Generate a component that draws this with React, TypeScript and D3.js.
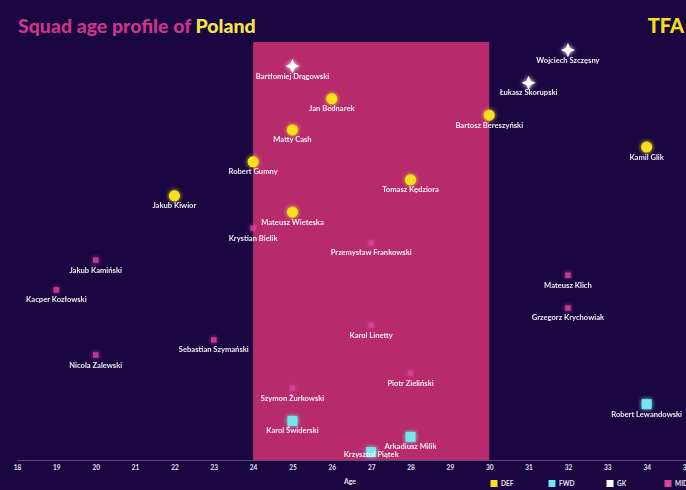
import React, { useEffect, useRef } from "react";
import * as d3 from "d3";

// Poland squad: age vs. vertical position (grouped by role)
const players = [
  "Wojciech Szczęsny", "Łukasz Skorupski", "Bartłomiej Drągowski",
  "Jan Bednarek", "Bartosz Bereszyński", "Matty Cash", "Kamil Glik", "Robert Gumny",
  "Tomasz Kędziora", "Jakub Kiwior", "Mateusz Wieteska",
  "Krystian Bielik", "Przemysław Frankowski", "Jakub Kamiński", "Mateusz Klich",
  "Kacper Kozłowski", "Grzegorz Krychowiak", "Karol Linetty", "Sebastian Szymański",
  "Nicola Zalewski", "Piotr Zieliński", "Szymon Żurkowski",
  "Robert Lewandowski", "Karol Świderski", "Arkadiusz Milik", "Krzysztof Piątek"
];
const ages = [
  32, 31, 25,
  26, 30, 25, 34, 24,
  28, 22, 25,
  24, 27, 20, 32,
  19, 32, 27, 23,
  20, 28, 25,
  34, 25, 28, 27
];
const heights = [
  97.6, 89.8, 93.8,
  86.0, 82.1, 78.6, 74.5, 71.0,
  66.7, 62.9, 59.0,
  55.2, 51.7, 47.6, 44.0,
  40.5, 36.2, 32.1, 28.6,
  25.0, 20.7, 17.1,
  13.3, 9.3, 5.5, 1.9
];
const positions = [
  "GK", "GK", "GK",
  "DEF", "DEF", "DEF", "DEF", "DEF",
  "DEF", "DEF", "DEF",
  "MID", "MID", "MID", "MID",
  "MID", "MID", "MID", "MID",
  "MID", "MID", "MID",
  "FWD", "FWD", "FWD", "FWD"
];
const ageTicks = d3.range(18, 36);
const peakAges = [24, 30];
const legendKeys = ["DEF", "FWD", "GK", "MID"];

const COLORS: any = { DEF: "#f6e21c", FWD: "#72e6ea", GK: "#ffffff", MID: "#d8449c" };
const BG = "#1a0641";
const PINK = "#b72a6b";

// four-pointed sparkle for goalkeepers
const sparkle = {
  draw(ctx: any, size: number) {
    const r = Math.sqrt(size) * 0.75;
    const k = r * 0.3;
    ctx.moveTo(0, -r);
    ctx.lineTo(k, -k);
    ctx.lineTo(r, 0);
    ctx.lineTo(k, k);
    ctx.lineTo(0, r);
    ctx.lineTo(-k, k);
    ctx.lineTo(-r, 0);
    ctx.lineTo(-k, -k);
    ctx.closePath();
  }
};

export default function App() {
  const svgRef = useRef<SVGSVGElement>(null);

  useEffect(() => {
    document.body.style.margin = "0";
    document.body.style.background = BG;
    if (!svgRef.current) return;

    const width = 686;
    const height = 490;
    const svg = d3.select(svgRef.current);
    svg.selectAll("*").remove();

    const x = d3.scaleLinear().domain([18, 35]).range([17, 686]);
    const y = d3.scaleLinear().domain([0, 100]).range([460, 40]);

    svg.append("rect").attr("width", width).attr("height", height).attr("fill", BG);

    const defs = svg.append("defs");
    const glow = defs.append("filter").attr("id", "glow")
      .attr("x", "-100%").attr("y", "-100%").attr("width", "300%").attr("height", "300%");
    glow.append("feGaussianBlur").attr("stdDeviation", 2).attr("result", "b");
    const merge = glow.append("feMerge");
    merge.append("feMergeNode").attr("in", "b");
    merge.append("feMergeNode").attr("in", "SourceGraphic");

    // peak age band
    svg.append("rect")
      .attr("x", x(peakAges[0]))
      .attr("y", 42)
      .attr("width", x(peakAges[1]) - x(peakAges[0]))
      .attr("height", 460 - 42)
      .attr("fill", PINK);

    // axis
    const axisG = svg.append("g").attr("transform", "translate(0,460)");
    axisG.call(d3.axisBottom(x).tickValues(ageTicks).tickSize(0).tickFormat(d3.format("d")) as any);
    axisG.select(".domain").attr("stroke", "rgba(255,255,255,0.35)").attr("stroke-width", 0.8);
    axisG.selectAll("text")
      .attr("dy", "1.1em")
      .style("fill", "#e6e0f0")
      .style("font-family", "Lato, sans-serif")
      .style("font-weight", "700")
      .style("font-size", "6.5px");

    svg.append("text")
      .attr("x", 350).attr("y", 484)
      .attr("text-anchor", "middle")
      .style("fill", "#e6e0f0")
      .style("font-family", "Lato, sans-serif")
      .style("font-weight", "700")
      .style("font-size", "7px")
      .text("Age");

    // players
    const data = players.map((name, i) => ({ name, age: ages[i], h: heights[i], pos: positions[i] }));

    const symFor = (pos: string) => {
      if (pos === "GK") return d3.symbol().type(sparkle as any).size(90)();
      if (pos === "FWD") return d3.symbol().type(d3.symbolSquare).size(100)();
      if (pos === "DEF") return d3.symbol().type(d3.symbolCircle).size(95)();
      return d3.symbol().type(d3.symbolSquare).size(30)();
    };

    const pts = svg.append("g");
    pts.selectAll("path")
      .data(data)
      .enter()
      .append("path")
      .attr("transform", d => `translate(${x(d.age)},${y(d.h)})`)
      .attr("d", d => symFor(d.pos))
      .attr("fill", d => COLORS[d.pos])
      .attr("opacity", d => (d.pos === "MID" ? 0.85 : 1))
      .attr("filter", "url(#glow)");

    pts.selectAll("text")
      .data(data)
      .enter()
      .append("text")
      .attr("x", d => x(d.age))
      .attr("y", d => Math.min(y(d.h) + 12.5, 457))
      .attr("text-anchor", "middle")
      .style("fill", "#ffffff")
      .style("opacity", 0.92)
      .style("font-family", "Lato, sans-serif")
      .style("font-weight", "700")
      .style("font-size", "7.6px")
      .text(d => d.name);

    // title
    const title = svg.append("text")
      .attr("x", 18).attr("y", 33)
      .style("font-family", "Lato, sans-serif")
      .style("font-weight", "900")
      .style("font-size", "19.5px");
    title.append("tspan").attr("fill", "#c8378a").text("Squad age profile of ");
    title.append("tspan").attr("fill", "#f3e64a").text("Poland");

    svg.append("text")
      .attr("x", 684).attr("y", 33)
      .attr("text-anchor", "end")
      .style("font-family", "Lato, sans-serif")
      .style("font-weight", "900")
      .style("font-size", "20px")
      .style("fill", "#f3e01c")
      .text("TFA");

    // legend
    const lx = d3.scalePoint().domain(legendKeys).range([494, 668]);
    const leg = svg.append("g");
    legendKeys.forEach(k => {
      leg.append("rect")
        .attr("x", (lx(k) as number) - 3.5).attr("y", 480)
        .attr("width", 7).attr("height", 7)
        .attr("fill", COLORS[k]);
      leg.append("text")
        .attr("x", (lx(k) as number) + 7).attr("y", 486)
        .style("fill", "#e6e0f0")
        .style("font-family", "Lato, sans-serif")
        .style("font-weight", "700")
        .style("font-size", "6.5px")
        .text(k);
    });
  }, []);

  return <svg ref={svgRef} width={686} height={490} style={{ display: "block" }} />;
}
